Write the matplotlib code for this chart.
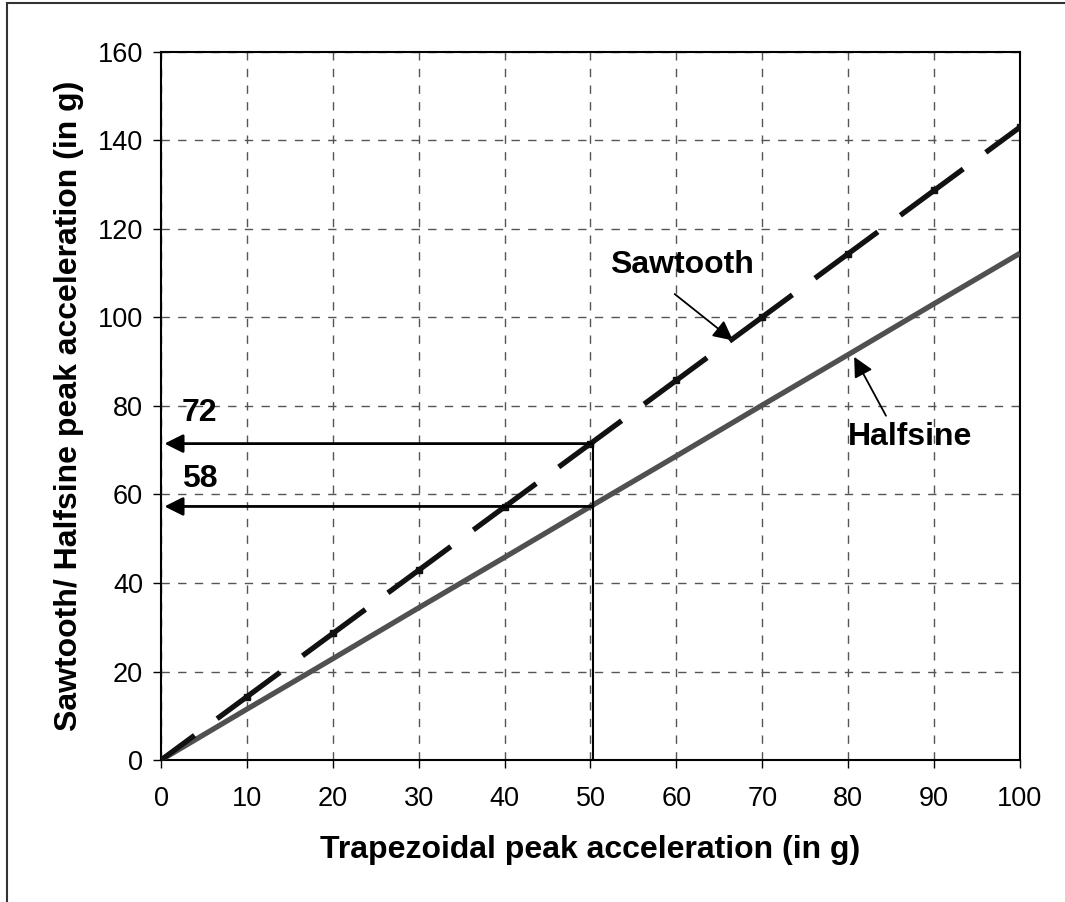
import matplotlib
matplotlib.use('Agg')
import matplotlib.pyplot as plt
from matplotlib.patches import Rectangle

# peak acceleration conversion, trapezoidal -> sawtooth / halfsine
trap_g = [0, 10, 20, 30, 40, 50, 60, 70, 80, 90, 100]
sawtooth_g = [0, 14.3, 28.6, 42.9, 57.2, 71.5, 85.8, 100.1, 114.4, 128.7, 143.0]
halfsine_g = [0, 11.5, 22.9, 34.4, 45.8, 57.3, 68.7, 80.2, 91.6, 103.1, 114.5]

example_x = 50
example_saw = 72
example_half = 58

plt.rcParams['font.family'] = ['Liberation Sans', 'DejaVu Sans']

fig = plt.figure(figsize=(10.65, 9.02), dpi=100)
ax = fig.add_axes([0.1512, 0.1574, 0.8065, 0.785])

# outer frame
fig.patches.append(Rectangle((7 / 1065, -0.05), 1.2, 1 - 3 / 902 + 0.05,
                             transform=fig.transFigure, fill=False,
                             edgecolor='#333333', lw=1.5, zorder=0))

ax.plot(trap_g, halfsine_g, color='#505050', lw=3.8, solid_capstyle='butt', zorder=3)
ax.plot(trap_g, sawtooth_g, color='#111111', lw=3.8, ls=(6.9, (14.8, 5.3)),
        marker='s', ms=5, mfc='#111111', mec='#111111', zorder=4)

# read-off lines for the 50 g example
ax.plot([example_x + 0.3, example_x + 0.3], [0.5, sawtooth_g[5]], color='black', lw=1.5, zorder=5)
for y in (sawtooth_g[5], halfsine_g[5]):
    ax.annotate('', xy=(0.4, y), xytext=(example_x + 0.3, y),
                arrowprops=dict(arrowstyle='-|>', color='black', lw=2,
                                mutation_scale=28, shrinkA=0, shrinkB=0),
                zorder=5)
ax.text(2.4, 78.4, str(example_saw), fontsize=23, fontweight='bold', va='center', ha='left')
ax.text(2.4, 63.5, str(example_half), fontsize=23, fontweight='bold', va='center', ha='left')

# series labels with pointer arrows
ax.text(60.7, 111.9, 'Sawtooth', fontsize=23, fontweight='bold', ha='center', va='center')
ax.annotate('', xy=(66.6, 94.8), xytext=(59.8, 105.3),
            arrowprops=dict(arrowstyle='-|>', color='black', lw=1.3,
                            mutation_scale=30, shrinkA=0, shrinkB=0))
ax.text(87.2, 73.0, 'Halfsine', fontsize=23, fontweight='bold', ha='center', va='center')
ax.annotate('', xy=(80.7, 91.1), xytext=(84.4, 77.8),
            arrowprops=dict(arrowstyle='-|>', color='black', lw=1.3,
                            mutation_scale=30, shrinkA=0, shrinkB=0))

ax.set_xlim(0, 100)
ax.set_ylim(0, 160)
ax.set_xticks(range(0, 101, 10))
ax.set_yticks(range(0, 161, 20))
ax.tick_params(direction='out', length=6, width=1, labelsize=19.5)
ax.tick_params(axis='x', pad=13)
ax.tick_params(axis='y', pad=7)
ax.grid(True, color='#555555', lw=1, ls=(0, (6, 6)))
ax.set_axisbelow(True)
for s in ax.spines.values():
    s.set_linewidth(1.5)

ax.set_xlabel('Trapezoidal peak acceleration (in g)', fontsize=23, fontweight='bold', labelpad=16)
ax.set_ylabel('Sawtooth/ Halfsine peak acceleration (in g)', fontsize=23, fontweight='bold', labelpad=10)

fig.savefig('out.png', dpi=100)
